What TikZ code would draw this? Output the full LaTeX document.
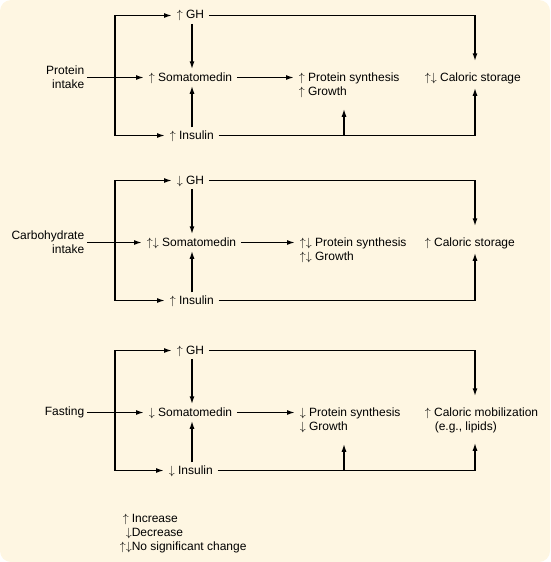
\documentclass[tikz,border=0pt]{standalone}
\usepackage{fontspec}
\setmainfont{Liberation Sans}
\usetikzlibrary{arrows.meta}
\definecolor{bgcream}{RGB}{254,246,226}
\newcommand{\upa}{$\uparrow$}
\newcommand{\dna}{$\downarrow$}
\begin{document}
\begin{tikzpicture}[x=1pt, y=-1pt, >={Latex[length=8pt,width=5pt]}, line width=1.5pt,
    lbl/.style={anchor=base west, inner xsep=4pt, inner ysep=2pt, text height=9pt, text depth=2pt, font=\fontsize{12}{14}\selectfont},
    cal/.style={lbl, text height=15pt, inner ysep=4pt},
    low/.style={lbl, inner ysep=11pt},
    intake/.style={anchor=east, align=right, inner sep=2pt, font=\fontsize{12}{13.5}\selectfont}]
    \useasboundingbox (0,0) rectangle (550,562);
    \fill[bgcream, rounded corners=11pt] (0,0) rectangle (550,562);
    \coordinate (colL) at (115,0); \coordinate (colM) at (192,0);
    \coordinate (colT) at (344,0); \coordinate (colR) at (475,0);
    % protein intake
    \begin{scope}
        \node[intake] (pi) at (87,77) {Protein\\intake};
        \node[lbl] (gh1) at (172,19) {\upa\ GH};
        \node[lbl] (sm1) at (144,81) {\upa\ Somatomedin};
        \node[lbl] (ins1) at (165,139) {\upa\ Insulin};
        \node[lbl] (ps1) at (294,81) {\upa\ Protein synthesis};
        \node[low] (gr1) at (294,95) {\upa\ Growth};
        \node[cal] (cs1) at (420,81) {\upa\dna\ Caloric storage};
        \draw[<->] (gh1.west) -| (sm1.west -| colL) |- (ins1.west);
        \draw[->] (sm1.west -| pi.east) -- (sm1.west);
        \draw[->] (gh1.south -| colM) -- (sm1.north -| colM);
        \draw[->] (ins1.north -| colM) -- (sm1.south -| colM);
        \draw[->] (sm1.east) -- (ps1.west);
        \draw[->] (gh1.east) -| (cs1.north -| colR);
        \draw[->] (ins1.east) -| (cs1.south -| colR);
        \draw[->] (ins1.east -| colT) -- (gr1.south -| colT);
    \end{scope}
    % carbohydrate intake
    \begin{scope}[shift={(0,165)}]
        \node[intake] (ci) at (87,77) {Carbohydrate\\intake};
        \node[lbl] (gh2) at (172,19) {\dna\ GH};
        \node[lbl] (sm2) at (142,81) {\upa\dna\ Somatomedin};
        \node[lbl] (ins2) at (165,139) {\upa\ Insulin};
        \node[lbl] (ps2) at (295,81) {\upa\dna\ Protein synthesis};
        \node[low] (gr2) at (295,95) {\upa\dna\ Growth};
        \node[cal] (cs2) at (420,81) {\upa\ Caloric storage};
        \draw[<->] (gh2.west) -| (sm2.west -| colL) |- (ins2.west);
        \draw[->] (sm2.west -| ci.east) -- (sm2.west);
        \draw[->] (gh2.south -| colM) -- (sm2.north -| colM);
        \draw[->] (ins2.north -| colM) -- (sm2.south -| colM);
        \draw[->] (sm2.east) -- (ps2.west);
        \draw[->] (gh2.east) -| (cs2.north -| colR);
        \draw[->] (ins2.east) -| (cs2.south -| colR);
    \end{scope}
    % fasting
    \begin{scope}[shift={(0,335)}]
        \node[intake] (fa) at (87,77) {Fasting};
        \node[lbl] (gh3) at (172,19) {\upa\ GH};
        \node[lbl] (sm3) at (144,81) {\dna\ Somatomedin};
        \node[lbl] (ins3) at (164,139) {\dna\ Insulin};
        \node[lbl] (ps3) at (295,81) {\dna\ Protein synthesis};
        \node[low] (gr3) at (295,95) {\dna\ Growth};
        \node[cal] (cs3) at (420,81) {\upa\ Caloric mobilization};
        \node[low, inner ysep=10pt] (lip) at (430,95) {(e.g., lipids)};
        \draw[<->] (gh3.west) -| (sm3.west -| colL) |- (ins3.west);
        \draw[->] (sm3.west -| fa.east) -- (sm3.west);
        \draw[->] (gh3.south -| colM) -- (sm3.north -| colM);
        \draw[->] (ins3.north -| colM) -- (sm3.south -| colM);
        \draw[->] (sm3.east) -- (ps3.west);
        \draw[->] (gh3.east) -| (cs3.north -| colR);
        \draw[->] (ins3.east) -| (lip.south -| colR);
        \draw[->] (ins3.east -| colT) -- (gr3.south -| colT);
    \end{scope}
    % key
    \node[anchor=base west, inner sep=0pt, font=\fontsize{12}{14}\selectfont] (key) at (119,522)
        {\begin{tabular}[t]{@{}r@{}l@{}}\upa\kern3pt & Increase\\ \dna & Decrease\\ \upa\dna & No significant change\end{tabular}};
\end{tikzpicture}
\end{document}
